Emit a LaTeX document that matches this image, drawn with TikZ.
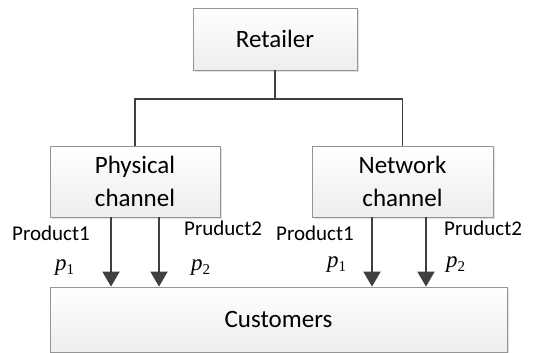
\documentclass[tikz,border=0pt]{standalone}
\usepackage{fontspec}
\setmainfont{Carlito}
\newfontfamily\tms{Liberation Serif}
\usetikzlibrary{arrows.meta,shadows}
\definecolor{linec}{HTML}{404040}
\definecolor{boxline}{HTML}{959595}
\newcommand{\pvar}[1]{{\tms\fontsize{23}{23}\selectfont\itshape p}{\tms\fontsize{15}{15}\selectfont\raisebox{-4pt}{#1}}}
\begin{document}
\begin{tikzpicture}[x=1pt,y=-1pt,
  box/.style={draw=boxline, line width=0.8pt, top color=white, bottom color=gray!14,
    inner sep=0pt, align=center, font=\fontsize{25}{33}\selectfont,
    drop shadow={shadow xshift=2pt, shadow yshift=-2pt, fill=gray!40, opacity=0.6}},
  conn/.style={draw=linec, line width=1.9pt},
  arr/.style={draw=linec, line width=1.9pt, -{Triangle[length=15pt, width=17pt]}},
  lbl/.style={font=\fontsize{21}{21}\selectfont, inner sep=0pt, anchor=west},
  pl/.style={inner sep=0pt, anchor=west}]
\useasboundingbox (0,0) rectangle (549,353);
\node[box, minimum width=164pt, minimum height=62pt] (ret) at (275,39) {Retailer};
\node[box, minimum width=170pt, minimum height=71pt] (phys) at (135,181.5) {Physical\\channel};
\node[box, minimum width=181pt, minimum height=71pt] (net) at (402.5,181.5) {Network\\channel};
\node[box, minimum width=457pt, minimum height=65pt] (cust) at (278.5,319.5) {Customers};
\coordinate (mid) at (275,99);
\draw[conn] (ret.south) -- (mid);
\draw[conn] (mid) -| (phys.north);
\draw[conn] (mid) -| (net.north);
\coordinate (a1) at (111,250);
\coordinate (a2) at (159,250);
\coordinate (a3) at (372,250);
\coordinate (a4) at (426,250);
\foreach \a in {a1,a2,a3,a4} \draw[arr] (\a |- phys.south) -- (\a |- cust.north);
\node[lbl] (l1) at (12,233) {Product1};
\node[lbl] (l2) at (184,228) {Pruduct2};
\node[lbl] (l3) at (276,233) {Product1};
\node[lbl] (l4) at (444,228) {Pruduct2};
\node[pl] (p1) at (55,268) {\pvar{1}};
\node[pl] (p2) at (191,268) {\pvar{2}};
\node[pl] (p3) at (327,265) {\pvar{1}};
\node[pl] (p4) at (446,265) {\pvar{2}};
\end{tikzpicture}
\end{document}
